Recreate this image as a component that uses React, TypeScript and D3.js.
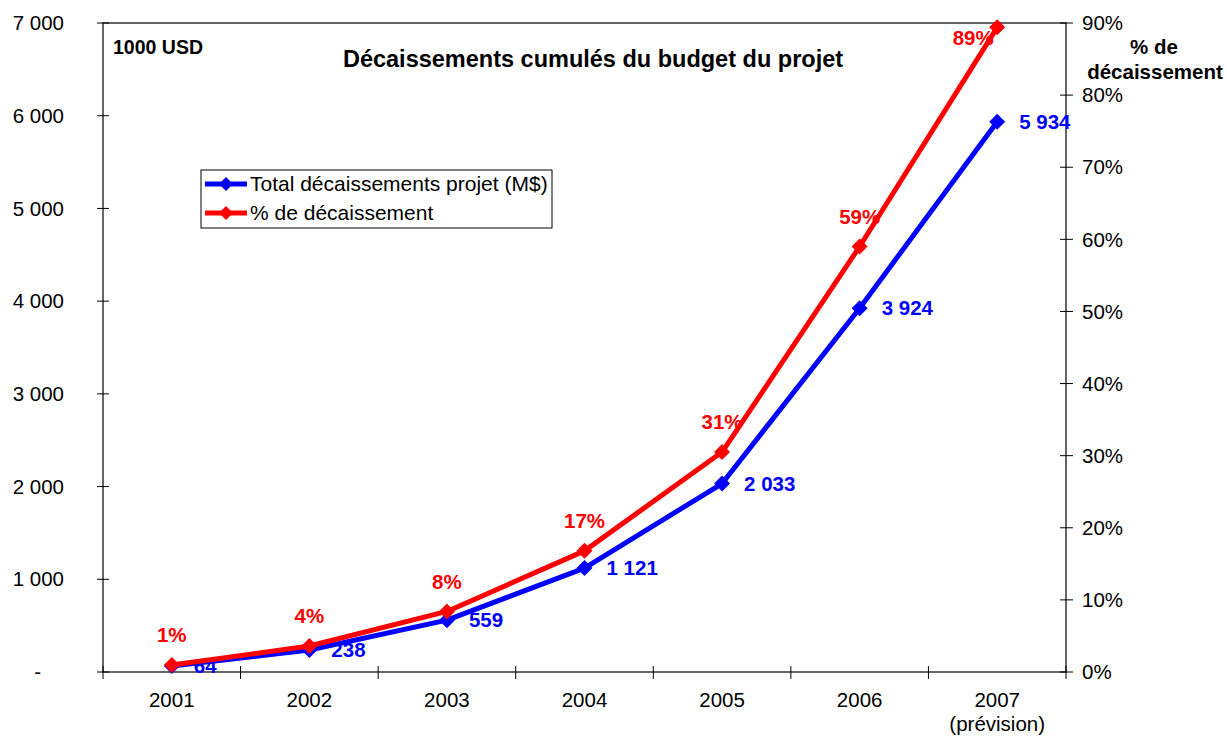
import React from "react";
import * as d3 from "d3";

const years = ["2001", "2002", "2003", "2004", "2005", "2006", "2007"];
const yearSub = ["", "", "", "", "", "", "(prévision)"];
const totals = [64, 238, 559, 1121, 2033, 3924, 5934];
const percents = [0.0096, 0.036, 0.084, 0.168, 0.305, 0.59, 0.894];
const leftTicks = [0, 1000, 2000, 3000, 4000, 5000, 6000, 7000];
const rightTicks = [0, 0.1, 0.2, 0.3, 0.4, 0.5, 0.6, 0.7, 0.8, 0.9];

const W = 1227, H = 736;
const L = 103, R = 1066, T = 23, B = 672;
const FONT = "'Liberation Sans', Arial, sans-serif";
const FS = 20.5;

function diamond(x: number, y: number, r: number) {
  return `M${x},${y - r}L${x + r},${y}L${x},${y + r}L${x - r},${y}Z`;
}

export default function App() {
  const x = d3.scaleBand<string>().domain(years).range([L, R]);
  const yL = d3.scaleLinear().domain([0, 7000]).range([B, T]);
  const yR = d3.scaleLinear().domain([0, 0.9]).range([B, T]);
  const cx = (d: string) => (x(d) as number) + x.bandwidth() / 2;
  const fmtNum = (v: number) => (v === 0 ? "-" : d3.format(",")(v).replace(/,/g, " "));
  const fmtPct = d3.format(".0%");

  const lineBlue = d3.line<number>().x((_, i) => cx(years[i])).y((v) => yL(v));
  const lineRed = d3.line<number>().x((_, i) => cx(years[i])).y((v) => yR(v));

  const bounds = [...years.map((d) => x(d) as number), R];

  return (
    <svg width={W} height={H} style={{ position: "absolute", left: 0, top: 0, fontFamily: FONT }}>
      <rect width={W} height={H} fill="#fff" />
      {/* frame */}
      <rect x={L} y={T} width={R - L} height={B - T} fill="none" stroke="#000" strokeWidth={1.2} />
      {/* left ticks */}
      {leftTicks.map((t) => (
        <g key={"l" + t}>
          <line x1={L - 6} x2={L + 6} y1={yL(t)} y2={yL(t)} stroke="#000" />
          <text x={t === 0 ? 41 : 64} y={yL(t)} dy="0.35em" textAnchor="end" fontSize={FS}>
            {fmtNum(t)}
          </text>
        </g>
      ))}
      {/* right ticks */}
      {rightTicks.map((t) => (
        <g key={"r" + t}>
          <line x1={R - 6} x2={R + 7} y1={yR(t)} y2={yR(t)} stroke="#000" />
          <text x={1082} y={yR(t)} dy="0.35em" textAnchor="start" fontSize={FS}>
            {fmtPct(t)}
          </text>
        </g>
      ))}
      {/* bottom ticks */}
      {bounds.map((b, i) => (
        <line key={"b" + i} x1={b} x2={b} y1={B - 6} y2={B + 7} stroke="#000" />
      ))}
      {years.map((d, i) => (
        <g key={"x" + d}>
          <text x={cx(d)} y={707} textAnchor="middle" fontSize={FS}>{d}</text>
          {yearSub[i] && (
            <text x={cx(d)} y={731} textAnchor="middle" fontSize={FS}>{yearSub[i]}</text>
          )}
        </g>
      ))}
      {/* titles */}
      <text x={113} y={54} fontSize={19.5} fontWeight="bold">1000 USD</text>
      <text x={593} y={67} textAnchor="middle" fontSize={23.5} fontWeight="bold">
        Décaissements cumulés du budget du projet
      </text>
      <text x={1154} y={54} textAnchor="middle" fontSize={FS} fontWeight="bold">% de</text>
      <text x={1155} y={79} textAnchor="middle" fontSize={FS} fontWeight="bold">décaissement</text>

      {/* blue series */}
      <path d={lineBlue(totals) || ""} fill="none" stroke="#0000ff" strokeWidth={5} strokeLinejoin="round" />
      {totals.map((v, i) => (
        <path key={"bm" + i} d={diamond(cx(years[i]), yL(v), 8)} fill="#0000ff" />
      ))}
      {totals.map((v, i) => (
        <text key={"bl" + i} x={cx(years[i]) + 22} y={yL(v)} dy="0.35em" fontSize={FS} fontWeight="bold" fill="#0000ff">
          {fmtNum(v)}
        </text>
      ))}
      {/* red series */}
      <path d={lineRed(percents) || ""} fill="none" stroke="#ff0000" strokeWidth={5} strokeLinejoin="round" />
      {percents.map((v, i) => (
        <path key={"rm" + i} d={diamond(cx(years[i]), yR(v), 8)} fill="#ff0000" />
      ))}
      {percents.map((v, i) => {
        const last = i === percents.length - 1;
        return (
          <text
            key={"rl" + i}
            x={cx(years[i]) + (last ? -24 : 0)}
            y={yR(v) + (last ? 10 : -30)}
            dy="0.35em"
            textAnchor="middle"
            fontSize={FS}
            fontWeight="bold"
            fill="#ff0000"
          >
            {fmtPct(v)}
          </text>
        );
      })}

      {/* legend */}
      <rect x={201} y={170} width={351} height={58} fill="#fff" stroke="#000" strokeWidth={1} />
      <line x1={205} x2={247} y1={184} y2={184} stroke="#0000ff" strokeWidth={5} />
      <path d={diamond(226, 184, 7)} fill="#0000ff" />
      <text x={250} y={184} dy="0.35em" fontSize={21}>Total décaissements projet (M$)</text>
      <line x1={205} x2={247} y1={213} y2={213} stroke="#ff0000" strokeWidth={5} />
      <path d={diamond(226, 213, 7)} fill="#ff0000" />
      <text x={250} y={213} dy="0.35em" fontSize={21}>% de décaissement</text>
    </svg>
  );
}
